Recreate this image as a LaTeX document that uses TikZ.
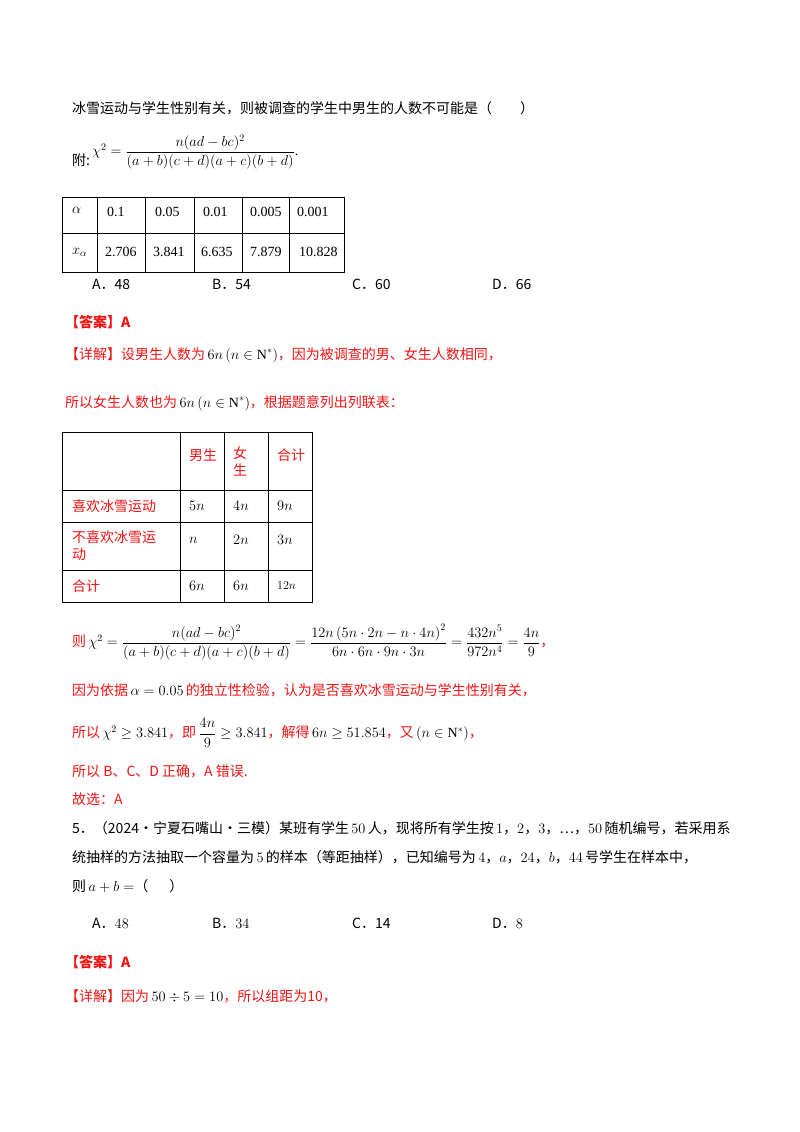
\documentclass[tikz,border=0pt]{standalone}
\usepackage{amsmath,amssymb}
\usepackage{fontspec}
\setmainfont{Liberation Serif}
\newfontfamily\cjk{Noto Sans CJK SC}
\definecolor{rd}{RGB}{240,20,20}
\begin{document}
\begin{tikzpicture}[x=1pt,y=-1pt,
  t/.style={anchor=west,inner sep=0pt,font=\fontsize{14}{17}\selectfont\cjk},
  r/.style={t,text=rd},
  c/.style={inner sep=0pt,font=\fontsize{14}{17}\selectfont},
  grid/.style={line width=0.8pt}]
\useasboundingbox (0,0) rectangle (800,1132);
\node[t] (l1) at (72,108) {冰雪运动与学生性别有关，则被调查的学生中男生的人数不可能是（\hspace{2em}）};
\node[t] (fu) at (72,160) {附:};
\node[c,anchor=west] (f1) at (92,152) {$\chi^2=\dfrac{n(ad-bc)^2}{(a+b)(c+d)(a+c)(b+d)}$.};
% table 1
\draw[grid] (62,197) rectangle (344,272) (62,233)--(344,233);
\foreach \x in {97,145,194,242,289} \draw[grid] (\x,197)--(\x,272);
\node[c,anchor=west] (a0) at (72,210) {$\alpha$};
\node[c,anchor=west] (x0) at (72,252) {$x_\alpha$};
\foreach \v/\x [count=\i] in {0.1/107,0.05/155,0.01/203,0.005/250,0.001/297}
  \node[c,anchor=west] (ta\i) at (\x,212) {\v};
\foreach \v/\x [count=\i] in {2.706/105,3.841/153,6.635/201,7.879/250,10.828/299}
  \node[c,anchor=west] (tb\i) at (\x,252) {\v};
\node[t] (o1) at (92,284) {A．48};
\node[t] (o2) at (212,284) {B．54};
\node[t] (o3) at (352,284) {C．60};
\node[t] (o4) at (492,284) {D．66};
\node[r,font=\fontsize{14}{17}\selectfont\cjk\bfseries] (ans) at (65,322) {【答案】A};
\node[r] (d1) at (65,355) {【详解】设男生人数为\,\textcolor{black}{$6n\left(n\in\mathrm{N}^*\right)$}，因为被调查的男、女生人数相同，};
\node[r] (d2) at (65,403) {所以女生人数也为\,\textcolor{black}{$6n\left(n\in\mathrm{N}^*\right)$}，根据题意列出列联表：};
% table 2
\draw[grid] (62,432) rectangle (312,602);
\foreach \y in {490,522,570} \draw[grid] (62,\y)--(312,\y);
\foreach \x in {180,224,268} \draw[grid] (\x,432)--(\x,602);
\node[r] (h1) at (189,455) {男生};
\node[r,align=left] (h2) at (233,461) {女\\生};
\node[r] (h3) at (277,455) {合计};
\node[r] (r1) at (72,506) {喜欢冰雪运动};
\node[r,align=left] (r2) at (72,546) {不喜欢冰雪运\\动};
\node[r] (r3) at (72,586) {合计};
\node[c,anchor=west] (c11) at (189,506) {$5n$};
\node[c,anchor=west] (c12) at (233,506) {$4n$};
\node[c,anchor=west] (c13) at (277,506) {$9n$};
\node[c,anchor=west] (c21) at (189,540) {$n$};
\node[c,anchor=west] (c22) at (233,540) {$2n$};
\node[c,anchor=west] (c23) at (277,540) {$3n$};
\node[c,anchor=west] (c31) at (189,586) {$6n$};
\node[c,anchor=west] (c32) at (233,586) {$6n$};
\node[c,anchor=west,font=\fontsize{12}{14}\selectfont] (c33) at (277,586) {$12n$};
\node[r] (z1) at (72,642) {则\,\textcolor{black}{$\chi^2=\dfrac{n(ad-bc)^2}{(a+b)(c+d)(a+c)(b+d)}=\dfrac{12n\left(5n\cdot2n-n\cdot4n\right)^2}{6n\cdot6n\cdot9n\cdot3n}=\dfrac{432n^5}{972n^4}=\dfrac{4n}{9}$}，};
\node[r] (z2) at (72,690) {因为依据\,\textcolor{black}{$\alpha=0.05$}\,的独立性检验，认为是否喜欢冰雪运动与学生性别有关，};
\node[r] (z3) at (72,733) {所以\,\textcolor{black}{$\chi^2\geq3.841$}，即\,\textcolor{black}{$\dfrac{4n}{9}\geq3.841$}，解得\,\textcolor{black}{$6n\geq51.854$}，又\,\textcolor{black}{$\left(n\in\mathrm{N}^*\right)$}，};
\node[r] (z4) at (72,771) {所以 B、C、D 正确，A 错误.};
\node[r] (z5) at (72,799) {故选：A};
\node[t] (q1) at (72,828) {5．（2024·宁夏石嘴山·三模）某班有学生\,$50$\,人，现将所有学生按\,$1$，$2$，$3$，…，$50$\,随机编号，若采用系};
\node[t] (q2) at (72,857) {统抽样的方法抽取一个容量为\,$5$\,的样本（等距抽样），已知编号为\,$4$，$a$，$24$，$b$，$44$\,号学生在样本中，};
\node[t] (q3) at (72,886) {则\,$a+b=$（\hspace{1.5em}）};
\node[t] (p1) at (92,923) {A．$48$};
\node[t] (p2) at (212,923) {B．$34$};
\node[t] (p3) at (352,923) {C．14};
\node[t] (p4) at (492,923) {D．$8$};
\node[r,font=\fontsize{14}{17}\selectfont\cjk\bfseries] (ans2) at (65,962) {【答案】A};
\node[r] (e1) at (65,996) {【详解】因为\,\textcolor{black}{$50\div5=10$}，所以组距为10，};
\end{tikzpicture}
\end{document}
